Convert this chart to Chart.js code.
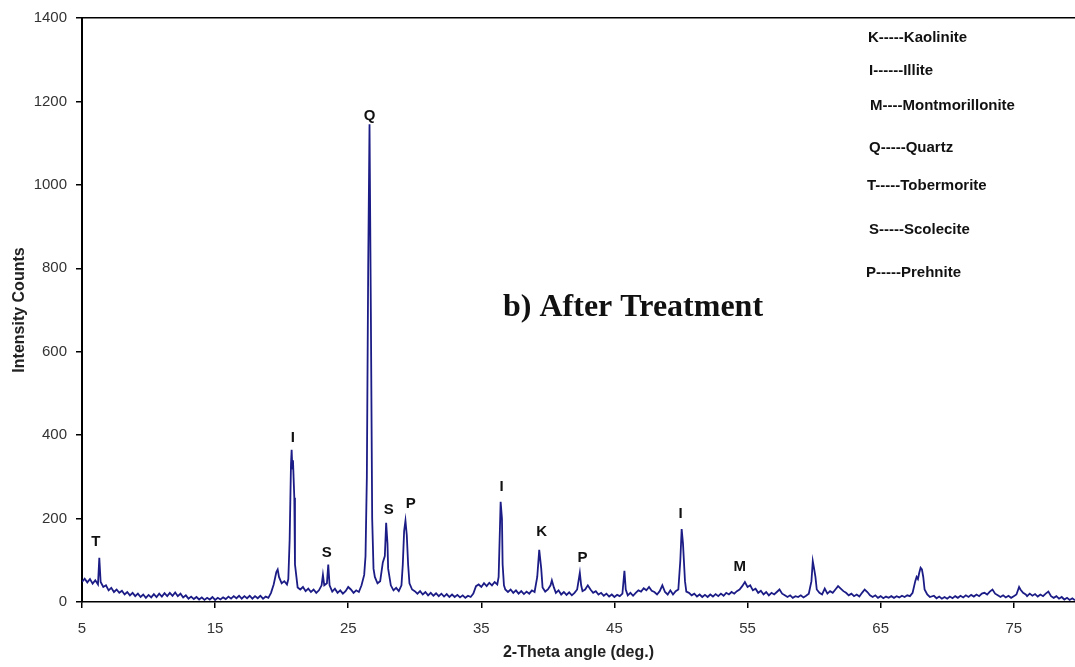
<!DOCTYPE html>
<html>
<head>
<meta charset="utf-8">
<script src="https://cdn.jsdelivr.net/npm/chart.js@4.4.0/dist/chart.umd.min.js"></script>
<style>
  html, body { margin: 0; padding: 0; background: #fff; }
  #wrap { width: 1075px; height: 667px; }
</style>
</head>
<body>
<div id="wrap"><canvas id="xrd" width="1075" height="667"></canvas></div>
<script>
/* XRD pattern - b) After Treatment */

// 2-theta positions (deg.) and intensity counts
const twoTheta = [
  5.0, 5.2, 5.4, 5.6, 5.8, 6.0, 6.2, 6.3, 6.4, 6.6, 6.8, 7.0, 7.2, 7.4, 7.6, 7.8,
  8.0, 8.2, 8.4, 8.6, 8.8, 9.0, 9.2, 9.4, 9.6, 9.8, 10.0, 10.2, 10.4, 10.6, 10.8,
  11.0, 11.2, 11.4, 11.6, 11.8, 12.0, 12.2, 12.4, 12.6, 12.8, 13.0, 13.2, 13.4, 13.6, 13.8,
  14.0, 14.2, 14.4, 14.6, 14.8, 15.0, 15.2, 15.4, 15.6, 15.8, 16.0, 16.2, 16.4, 16.6, 16.8,
  17.0, 17.2, 17.4, 17.6, 17.8, 18.0, 18.2, 18.4, 18.6, 18.8, 19.0, 19.2, 19.4, 19.6, 19.7, 19.8,
  20.0, 20.2, 20.4, 20.5, 20.6, 20.7, 20.75, 20.8, 20.85, 20.95, 21.0, 21.2, 21.4, 21.6, 21.8,
  22.0, 22.2, 22.4, 22.6, 22.8, 23.0, 23.1, 23.2, 23.4, 23.5, 23.6, 23.8,
  24.0, 24.2, 24.4, 24.6, 24.8, 25.0, 25.2, 25.4, 25.6, 25.8,
  26.0, 26.2, 26.3, 26.4, 26.5, 26.6, 26.7, 26.8, 26.9, 27.0, 27.2, 27.4, 27.6, 27.75, 27.85, 27.95,
  28.0, 28.2, 28.4, 28.6, 28.8, 29.0, 29.1, 29.2, 29.3, 29.4, 29.5, 29.6, 29.8,
  30.0, 30.2, 30.4, 30.6, 30.8, 31.0, 31.2, 31.4, 31.6, 31.8, 32.0, 32.2, 32.4, 32.6, 32.8,
  33.0, 33.2, 33.4, 33.6, 33.8, 34.0, 34.2, 34.4, 34.6, 34.8, 35.0, 35.2, 35.4, 35.6, 35.8,
  36.0, 36.2, 36.3, 36.4, 36.45, 36.55, 36.6, 36.7, 36.8, 37.0, 37.2, 37.4, 37.6, 37.8,
  38.0, 38.2, 38.4, 38.6, 38.8, 39.0, 39.2, 39.35, 39.5, 39.6, 39.8,
  40.0, 40.2, 40.3, 40.45, 40.6, 40.8, 41.0, 41.2, 41.4, 41.6, 41.8,
  42.0, 42.2, 42.4, 42.5, 42.6, 42.8, 43.0, 43.2, 43.4, 43.6, 43.8,
  44.0, 44.2, 44.4, 44.6, 44.8, 45.0, 45.2, 45.4, 45.6, 45.75, 45.85,
  46.0, 46.2, 46.4, 46.6, 46.8, 47.0, 47.2, 47.4, 47.6, 47.8,
  48.0, 48.2, 48.4, 48.6, 48.8, 49.0, 49.2, 49.4, 49.6, 49.8, 49.95,
  50.05, 50.15, 50.3, 50.4, 50.6, 50.8, 51.0, 51.2, 51.4, 51.6, 51.8,
  52.0, 52.2, 52.4, 52.6, 52.8, 53.0, 53.2, 53.4, 53.6, 53.8,
  54.0, 54.2, 54.4, 54.6, 54.8, 55.0, 55.2, 55.4, 55.6, 55.8,
  56.0, 56.2, 56.4, 56.6, 56.8, 57.0, 57.2, 57.4, 57.6, 57.8,
  58.0, 58.2, 58.4, 58.6, 58.8, 59.0, 59.2, 59.4, 59.6, 59.8, 59.9,
  60.0, 60.1, 60.2, 60.4, 60.6, 60.8, 61.0, 61.2, 61.4, 61.6, 61.8,
  62.0, 62.2, 62.4, 62.6, 62.8, 63.0, 63.2, 63.4, 63.6, 63.8,
  64.0, 64.2, 64.4, 64.6, 64.8, 65.0, 65.2, 65.4, 65.6, 65.8,
  66.0, 66.2, 66.4, 66.6, 66.8, 67.0, 67.2, 67.4, 67.6, 67.7, 67.8, 67.9,
  68.0, 68.1, 68.2, 68.3, 68.5, 68.7, 69.0, 69.2, 69.4, 69.6, 69.8,
  70.0, 70.2, 70.4, 70.6, 70.8, 71.0, 71.2, 71.4, 71.6, 71.8,
  72.0, 72.2, 72.4, 72.6, 72.8, 73.0, 73.2, 73.4, 73.6, 73.8,
  74.0, 74.2, 74.4, 74.6, 74.8, 75.0, 75.2, 75.4, 75.5, 75.7, 75.9,
  76.0, 76.2, 76.4, 76.6, 76.8, 77.0, 77.2, 77.4, 77.6, 77.8,
  78.0, 78.2, 78.4, 78.6, 78.8, 79.0, 79.2, 79.4, 79.6
];

const counts = [
  48, 56, 47, 55, 44, 52, 42, 106, 48, 36, 40, 28, 34, 24, 30, 22,
  27, 18, 24, 16, 22, 14, 20, 12, 18, 10, 17, 11, 19, 12, 20,
  13, 21, 14, 22, 15, 23, 14, 20, 11, 16, 8, 13, 7, 12, 6,
  11, 5, 10, 6, 12, 5, 10, 6, 11, 7, 13, 8, 14, 9, 15,
  8, 14, 9, 15, 8, 14, 9, 15, 8, 13, 10, 22, 42, 72, 78, 60,
  45, 50, 42, 55, 150, 330, 365, 320, 340, 250, 90, 35, 30, 36, 26,
  32, 24, 30, 22, 28, 40, 65, 40, 45, 90, 40, 25,
  32, 22, 28, 20, 26, 36, 30, 22, 28, 24,
  40, 65, 110, 300, 800, 1145, 700, 200, 80, 60, 45, 50, 95, 110, 190, 140,
  80, 40, 28, 34, 26, 40, 90, 170, 195, 160, 90, 45, 30,
  26, 20, 26, 18, 24, 16, 22, 15, 21, 14, 20, 13, 19, 12, 18,
  12, 17, 11, 16, 10, 15, 12, 20, 38, 42, 36, 45, 38, 46, 40,
  48, 42, 60, 180, 240, 200, 90, 40, 30, 24, 30, 22, 28, 20,
  26, 19, 25, 20, 28, 24, 60, 125, 80, 35, 25,
  30, 40, 52, 35, 22, 28, 18, 24, 17, 23, 16,
  22, 30, 70, 40, 26, 30, 40, 30, 22, 26, 18,
  22, 15, 20, 13, 18, 12, 17, 14, 20, 75, 30,
  16, 22, 15, 22, 28, 25, 33, 28, 36, 27,
  24, 18, 26, 40, 24, 18, 28, 18, 26, 30, 100,
  175, 140, 50, 25, 22, 16, 20, 13, 18, 12, 17,
  12, 18, 13, 19, 14, 20, 15, 22, 18, 24,
  20, 26, 30, 38, 48, 36, 40, 28, 32, 22,
  27, 18, 24, 16, 22, 18, 24, 30, 20, 16,
  12, 16, 10, 14, 12, 16, 11, 15, 20, 50, 98,
  80, 60, 30, 22, 18, 32, 20, 26, 22, 30, 38,
  32, 26, 22, 16, 20, 14, 18, 13, 22, 30,
  24, 16, 12, 16, 10, 14, 9, 13, 10, 14,
  10, 14, 11, 15, 12, 16, 14, 22, 50, 60, 55, 70,
  82, 78, 60, 30, 18, 12, 15, 9, 13, 8, 12,
  8, 13, 9, 14, 10, 15, 11, 16, 12, 17,
  13, 18, 14, 20, 22, 18, 25, 30, 20, 16,
  12, 16, 11, 15, 10, 14, 18, 36, 30, 22, 18,
  14, 20, 15, 19, 13, 18, 14, 20, 25, 14,
  10, 14, 8, 12, 6, 10, 5, 9, 4
];

const xTicks = [5, 15, 25, 35, 45, 55, 65, 75];

// phase letters over the peaks (anchor in data coordinates)
const peakLetters = ['T', 'I', 'S', 'Q', 'S', 'P', 'I', 'K', 'P', 'I', 'M'];
const peakX = [6.03, 20.83, 23.38, 26.61, 28.04, 29.69, 36.53, 39.53, 42.61, 49.97, 54.41];
const peakY = [143, 394, 119, 1166, 220, 236, 275, 169, 107, 212, 85];

// key of phases on the right
const keyLines = ['K-----Kaolinite', 'I------Illite', 'M----Montmorillonite', 'Q-----Quartz',
                  'T-----Tobermorite', 'S-----Scolecite', 'P-----Prehnite'];
const keyLeft = [868, 869, 870, 869, 867, 869, 866];
const keyTop = [38, 71, 106, 148, 186, 230, 273];

const inkColor = '#1c1c86';

/* Draws the peak letters, the phase key and the panel caption */
const labelPlugin = {
    id: 'xrdLabels',
    afterDatasetsDraw(chart) {
        const ctx = chart.ctx;
        const xs = chart.scales.x;
        const ys = chart.scales.y;
        ctx.save();
        ctx.fillStyle = '#111';
        ctx.textAlign = 'center';
        ctx.textBaseline = 'middle';
        ctx.font = 'bold 15px "Liberation Sans", Arial, sans-serif';
        peakLetters.forEach((txt, i) => {
            ctx.fillText(txt, xs.getPixelForValue(peakX[i]), ys.getPixelForValue(peakY[i]));
        });

        ctx.textAlign = 'left';
        keyLines.forEach((txt, i) => {
            ctx.fillText(txt, keyLeft[i], keyTop[i]);
        });

        ctx.font = 'bold 32px "Liberation Serif", "Times New Roman", serif';
        ctx.textBaseline = 'alphabetic';
        ctx.fillText('b) After Treatment', 503, 316);
        ctx.restore();
    }
};

const ctx = document.getElementById('xrd');
const chartInstance = new Chart(ctx, {
    type: 'line',
    data: {
        datasets: [{
            data: twoTheta.map((t, i) => ({ x: t, y: counts[i] })),
            borderColor: inkColor,
            borderWidth: 1.8,
            pointRadius: 0,
            tension: 0,
            fill: false
        }]
    },
    options: {
        responsive: false,
        animation: false,
        layout: { padding: { top: 17, right: 0, left: 0, bottom: 0 } },
        plugins: {
            legend: { display: false },
            tooltip: { enabled: false }
        },
        scales: {
            x: {
                type: 'linear',
                min: 5,
                max: 79.6,
                afterBuildTicks: scale => { scale.ticks = xTicks.map(v => ({ value: v })); },
                afterFit: scale => { scale.height = 65; },
                grid: { drawOnChartArea: false, tickLength: 6, color: '#000', lineWidth: 1.5 },
                border: { color: '#000', width: 1.5 },
                ticks: {
                    color: '#333',
                    padding: 12,
                    maxRotation: 0,
                    font: { family: 'Liberation Sans', size: 15 }
                },
                title: {
                    display: true,
                    text: '2-Theta angle (deg.)',
                    color: '#222',
                    font: { family: 'Liberation Sans', size: 16, weight: 'bold' },
                    padding: { top: 0, bottom: 5 }
                }
            },
            xTop: {
                type: 'linear',
                position: 'top',
                min: 5,
                max: 79.6,
                afterFit: scale => { scale.height = 0; },
                grid: { drawOnChartArea: false, drawTicks: false },
                border: { color: '#000', width: 1.5 },
                ticks: { display: false }
            },
            y: {
                min: 0,
                max: 1400,
                afterFit: scale => { scale.width = 82; },
                grid: { drawOnChartArea: false, tickLength: 6, color: '#000', lineWidth: 1.5 },
                border: { color: '#000', width: 2 },
                ticks: {
                    stepSize: 200,
                    color: '#333',
                    padding: 9,
                    callback: v => String(v),
                    font: { family: 'Liberation Sans', size: 15 }
                },
                title: {
                    display: true,
                    text: 'Intensity Counts',
                    color: '#222',
                    font: { family: 'Liberation Sans', size: 16, weight: 'bold' },
                    padding: { top: 10, bottom: 0 }
                }
            }
        }
    },
    plugins: [labelPlugin]
});
</script>
</body>
</html>
